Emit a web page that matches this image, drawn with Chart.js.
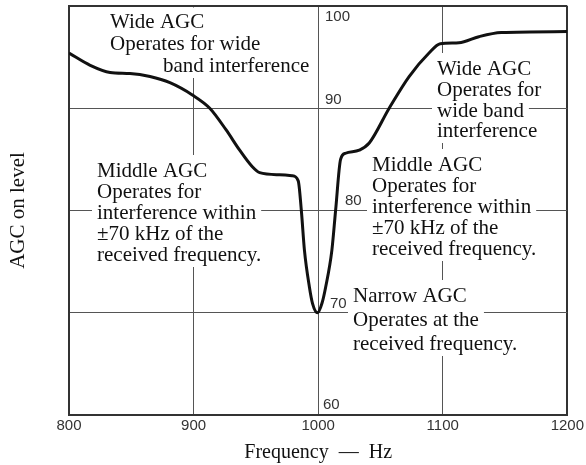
<!DOCTYPE html>
<html>
<head>
<meta charset="utf-8">
<script src="https://cdn.jsdelivr.net/npm/chart.js@4"></script>
<style>
  html, body { margin: 0; padding: 0; background: #fff; }
  #wrap { width: 586px; height: 465px; }
</style>
</head>
<body>
<div id="wrap"><canvas id="agcChart" width="586" height="465"></canvas></div>
<script>
// ---- data ----
const freq = [800, 817, 833, 849, 865, 881, 899, 913, 926, 937, 947, 953, 969, 979, 984, 986.5, 989, 993, 995.5, 999.5, 1003, 1006, 1011, 1014, 1018, 1022, 1033, 1041, 1057, 1073, 1089, 1098, 1113, 1129, 1147, 1200];
const agcLevel = [95.4, 94.2, 93.5, 93.4, 93.1, 92.5, 91.3, 90.0, 87.9, 85.9, 84.3, 83.7, 83.5, 83.4, 82.9, 80.0, 76.1, 72.5, 70.9, 70.0, 70.9, 72.5, 76.1, 80.0, 85.0, 85.6, 85.9, 86.6, 90.0, 93.1, 95.4, 96.3, 96.4, 97.0, 97.4, 97.5];
const xTicks = [800, 900, 1000, 1100, 1200];
const yTicks = [60, 70, 80, 90, 100];

// text blocks drawn on the plot (left x, baselines in px)
const notes = [
  { x: 110, base: [28, 50], lines: ['Wide AGC', 'Operates for wide'] },
  { x: 163, base: [72], lines: ['band interference'] },
  { x: 97, base: [177, 198, 219, 240, 261], lines: ['Middle AGC', 'Operates for', 'interference within', '\u00b170 kHz of the', 'received frequency.'] },
  { x: 437, base: [75, 96, 117, 137], lines: ['Wide AGC', 'Operates for', 'wide band', 'interference'] },
  { x: 372, base: [171, 192, 213, 234, 255], lines: ['Middle AGC', 'Operates for', 'interference within', '\u00b170 kHz of the', 'received frequency.'] },
  { x: 353, base: [302, 326, 350], lines: ['Narrow AGC', 'Operates at the', 'received frequency.'] }
];

// y labels sit beside the 1000 Hz line, nudged per value
const yLabelPos = { 100: [325, 11], 90: [325, -8], 80: [345, -10], 70: [330, -9], 60: [323, -10] };

const SERIF = '"Liberation Serif", "DejaVu Serif", serif';
const SANS = '"Liberation Sans", Arial, sans-serif';

const notesPlugin = {
  id: 'notes',
  beforeDatasetsDraw(chart) {
    const ctx = chart.ctx;
    const a = chart.chartArea;
    ctx.save();
    // keep the white boxes inside the frame
    ctx.beginPath();
    ctx.rect(a.left + 1.5, a.top + 1.5, a.right - a.left - 3, a.bottom - a.top - 3);
    ctx.clip();
    ctx.font = '21px ' + SERIF;
    // white boxes knock out the grid under the text
    ctx.fillStyle = '#fff';
    notes.forEach(n => {
      n.lines.forEach((t, i) => {
        const w = ctx.measureText(t).width;
        ctx.fillRect(n.x - 5, n.base[i] - 22, w + 10, 28);
      });
    });
    ctx.restore();

    ctx.save();
    ctx.font = '21px ' + SERIF;
    ctx.fillStyle = '#111';
    ctx.textBaseline = 'alphabetic';
    notes.forEach(n => {
      n.lines.forEach((t, i) => ctx.fillText(t, n.x, n.base[i]));
    });

    // y tick labels
    const ys = chart.scales.y;
    ctx.font = '15px ' + SANS;
    ctx.fillStyle = '#333';
    ctx.textBaseline = 'middle';
    yTicks.forEach(v => {
      const p = yLabelPos[v];
      ctx.fillText(String(v), p[0], ys.getPixelForValue(v) + p[1]);
    });

    // y axis title
    ctx.font = '21px ' + SERIF;
    ctx.fillStyle = '#111';
    ctx.textAlign = 'center';
    ctx.textBaseline = 'alphabetic';
    ctx.translate(24, (a.top + a.bottom) / 2);
    ctx.rotate(-Math.PI / 2);
    ctx.fillText('AGC on level', 0, 0);
    ctx.restore();
  }
};

const isEdge = (v, lo, hi) => v === lo || v === hi;

new Chart(document.getElementById('agcChart').getContext('2d'), {
  type: 'line',
  data: {
    datasets: [{
      data: freq.map((f, i) => ({ x: f, y: agcLevel[i] })),
      borderColor: '#111',
      borderWidth: 3,
      pointRadius: 0,
      fill: false,
      cubicInterpolationMode: 'monotone'
    }]
  },
  options: {
    responsive: false,
    animation: false,
    layout: { padding: { top: 6, right: 17, left: 0, bottom: 0 } },
    plugins: { legend: { display: false }, tooltip: { enabled: false } },
    scales: {
      x: {
        type: 'linear',
        min: 800,
        max: 1200,
        afterBuildTicks: s => { s.ticks = xTicks.map(v => ({ value: v })); },
        afterFit: s => { s.height = 50; },
        grid: {
          drawTicks: false,
          color: c => isEdge(c.tick.value, 800, 1200) ? '#333' : '#555',
          lineWidth: c => isEdge(c.tick.value, 800, 1200) ? 2 : 1
        },
        border: { color: '#333', width: 2 },
        ticks: {
          color: '#333',
          font: { family: SANS, size: 15 },
          padding: 2,
          maxRotation: 0,
          callback: v => String(v)
        },
        title: {
          display: true,
          text: 'Frequency  \u2014  Hz',
          color: '#111',
          font: { family: SERIF, size: 20 },
          padding: { top: 4, bottom: 0 }
        }
      },
      y: {
        type: 'linear',
        min: 60,
        max: 100,
        afterBuildTicks: s => { s.ticks = yTicks.map(v => ({ value: v })); },
        afterFit: s => { s.width = 69; },
        grid: {
          drawTicks: false,
          color: c => isEdge(c.tick.value, 60, 100) ? '#333' : '#555',
          lineWidth: c => isEdge(c.tick.value, 60, 100) ? 2 : 1
        },
        border: { color: '#333', width: 2 },
        ticks: { display: false },
        title: { display: false }
      }
    }
  },
  plugins: [notesPlugin]
});
</script>
</body>
</html>
